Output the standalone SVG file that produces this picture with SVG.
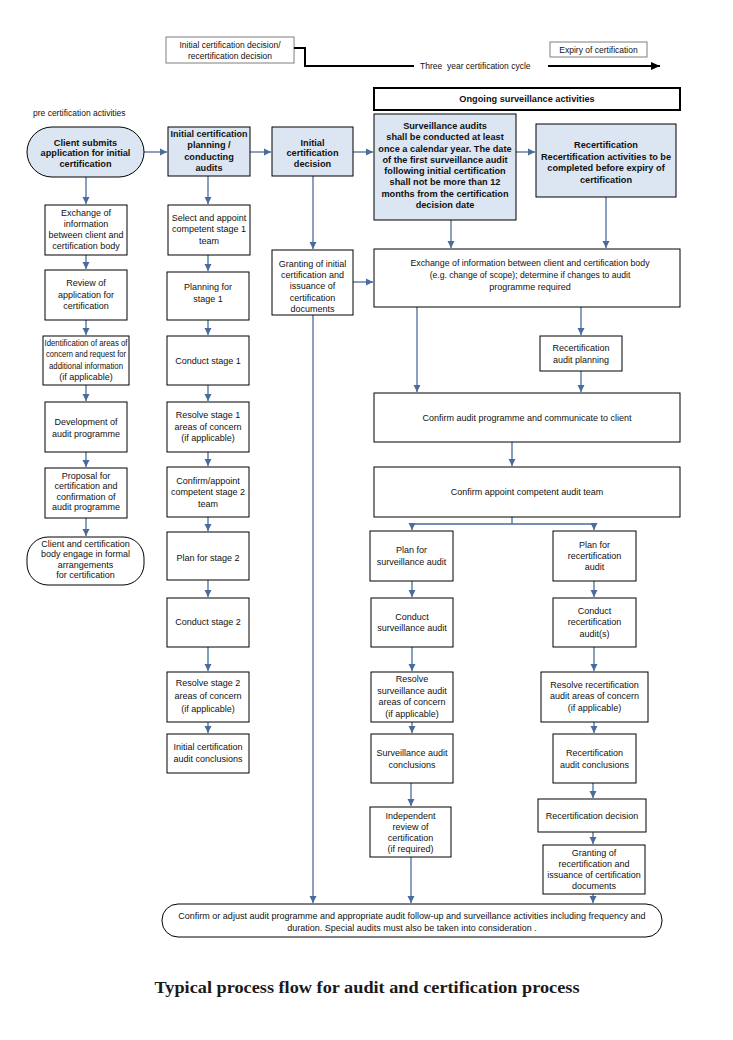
<svg xmlns="http://www.w3.org/2000/svg" width="733" height="1040" viewBox="0 0 733 1040">
<style>
  .bx { fill: #ffffff; stroke: #000000; stroke-width: 1; }
  .bl { fill: #DCE6F2; stroke: #000000; stroke-width: 1; }
  .gb { fill: #ffffff; stroke: #7f7f7f; stroke-width: 1; }
  text { font-family: "Liberation Sans", Arial, sans-serif; font-size: 9px; fill: #111111; }
  .c { text-anchor: middle; }
  .b { font-weight: bold; font-size: 9.2px; }
  .s { font-size: 8.5px; }
  .cn { fill: none; stroke: #4A6C9B; stroke-width: 1.3; marker-end: url(#ah); }
  .ln { fill: none; stroke: #4A6C9B; stroke-width: 1.3; }
  .title { font-family: "Liberation Serif", "Times New Roman", serif; font-weight: bold; font-size: 17px; fill: #1a1a1a; }
</style>
<defs>
  <marker id="ah" markerUnits="userSpaceOnUse" markerWidth="8" markerHeight="8" refX="7" refY="4" orient="auto">
    <path d="M0,0.5 L7,4 L0,7.5 z" fill="#4A6C9B"/>
  </marker>
  <marker id="ahk" markerUnits="userSpaceOnUse" markerWidth="10" markerHeight="10" refX="9" refY="5" orient="auto">
    <path d="M0,1 L9,5 L0,9 z" fill="#000000"/>
  </marker>
</defs>
<rect x="0" y="0" width="733" height="1040" fill="#ffffff"/>

<!-- top timeline -->
<g id="cycle">
  <rect class="gb" x="166" y="37" width="128" height="26"/>
  <text class="c s" x="230" y="47.5">Initial certification decision/</text>
  <text class="c s" x="230" y="58.5">recertification decision</text>
  <path d="M294,48 H305 V66 H414" fill="none" stroke="#000" stroke-width="2"/>
  <text class="s" x="420" y="69">Three&#160; year certification cycle</text>
  <path d="M548,66 H660" fill="none" stroke="#000" stroke-width="2" marker-end="url(#ahk)"/>
</g>
<g id="expiry">
  <rect class="gb" x="550" y="42" width="97" height="15"/>
  <text class="c s" x="598.5" y="53">Expiry of certification</text>
</g>
<g id="ongoing">
  <rect x="374" y="88" width="306" height="22" fill="#fff" stroke="#000" stroke-width="2"/>
  <text class="c b" x="527" y="102">Ongoing surveillance activities</text>
</g>
<text class="s" x="33" y="116">pre certification activities</text>

<!-- connectors -->
<g id="connectors">
  <path class="cn" d="M144,152 H167"/>
  <path class="cn" d="M250,152 H271"/>
  <path class="cn" d="M353,152 H373"/>
  <path class="cn" d="M516,152 H535"/>
  <!-- left column -->
  <path class="cn" d="M86,177 V204"/>
  <path class="cn" d="M86,255 V269"/>
  <path class="cn" d="M86,320 V335"/>
  <path class="cn" d="M86,385 V401"/>
  <path class="cn" d="M86,452 V467"/>
  <path class="cn" d="M86,518 V536"/>
  <!-- middle column -->
  <path class="cn" d="M208,176 V204"/>
  <path class="cn" d="M208,255 V271"/>
  <path class="cn" d="M208,320 V335"/>
  <path class="cn" d="M208,385 V401"/>
  <path class="cn" d="M208,452 V466"/>
  <path class="cn" d="M208,517 V531"/>
  <path class="cn" d="M208,580 V597"/>
  <path class="cn" d="M208,647 V671"/>
  <path class="cn" d="M208,722 V733"/>
  <!-- decision column -->
  <path class="cn" d="M313,176 V249"/>
  <path class="cn" d="M353,282 H373"/>
  <path class="cn" d="M313,315 V903"/>
  <!-- right area -->
  <path class="cn" d="M451,220 V248"/>
  <path class="cn" d="M606,197 V248"/>
  <path class="cn" d="M417,307 V392"/>
  <path class="cn" d="M581,307 V335"/>
  <path class="cn" d="M581,371 V392"/>
  <path class="cn" d="M512,442 V466"/>
  <path class="ln" d="M512,517 V524 H412 M512,524 H594"/>
  <path class="cn" d="M412,524 V530"/>
  <path class="cn" d="M594,524 V530"/>
  <path class="cn" d="M412,581 V597"/>
  <path class="cn" d="M412,647 V671"/>
  <path class="cn" d="M412,722 V733"/>
  <path class="cn" d="M411,783 V806"/>
  <path class="cn" d="M411,857 V903"/>
  <path class="cn" d="M594,581 V597"/>
  <path class="cn" d="M594,647 V671"/>
  <path class="cn" d="M594,722 V733"/>
  <path class="cn" d="M593,783 V798"/>
  <path class="cn" d="M593,832 V844"/>
  <path class="cn" d="M593,894 V903"/>
</g>

<!-- top row -->
<g id="client-submits">
  <rect class="bl" x="27" y="127" width="117" height="50" rx="25"/>
  <text class="c b" x="85.5" y="145.5">Client submits</text>
  <text class="c b" x="85.5" y="156">application for initial</text>
  <text class="c b" x="85.5" y="166.5">certification</text>
</g>
<g id="initial-planning">
  <rect class="bl" x="168" y="127" width="82" height="49"/>
  <text class="c b" x="209" y="136.5" style="font-size:9px">Initial certification</text>
  <text class="c b" x="209" y="148">planning /</text>
  <text class="c b" x="209" y="159.5">conducting</text>
  <text class="c b" x="209" y="171">audits</text>
</g>
<g id="initial-decision">
  <rect class="bl" x="272" y="127" width="81" height="49"/>
  <text class="c b" x="312.5" y="145.5">Initial</text>
  <text class="c b" x="312.5" y="156">certification</text>
  <text class="c b" x="312.5" y="166.5">decision</text>
</g>
<g id="surveillance-audits">
  <rect class="bl" x="374" y="114" width="142" height="106"/>
  <text class="c b" x="445" y="129">Surveillance audits</text>
  <text class="c b" x="445" y="140">shall be conducted at least</text>
  <text class="c b" x="445" y="151.5">once a calendar year. The date</text>
  <text class="c b" x="445" y="162.5">of the first surveillance audit</text>
  <text class="c b" x="445" y="174">following initial certification</text>
  <text class="c b" x="445" y="185">shall not be more than 12</text>
  <text class="c b" x="445" y="196.5">months from the certification</text>
  <text class="c b" x="445" y="207.5">decision date</text>
</g>
<g id="recertification">
  <rect class="bl" x="536" y="124" width="140" height="73"/>
  <text class="c b" x="606" y="148">Recertification</text>
  <text class="c b" x="606" y="160">Recertification activities to be</text>
  <text class="c b" x="606" y="171">completed before expiry of</text>
  <text class="c b" x="606" y="183">certification</text>
</g>

<!-- left column -->
<g id="exchange-info">
  <rect class="bx" x="45" y="205" width="82" height="50"/>
  <text class="c" x="86" y="216">Exchange of</text>
  <text class="c" x="86" y="227">information</text>
  <text class="c" x="86" y="238">between client and</text>
  <text class="c" x="86" y="249">certification body</text>
</g>
<g id="review">
  <rect class="bx" x="45" y="270" width="82" height="50"/>
  <text class="c" x="86" y="286">Review of</text>
  <text class="c" x="86" y="298">application for</text>
  <text class="c" x="86" y="309">certification</text>
</g>
<g id="identification">
  <rect class="bx" x="43" y="336" width="86" height="49"/>
  <text class="c" x="86" y="345.5" textLength="83" lengthAdjust="spacingAndGlyphs">Identification of areas of</text>
  <text class="c" x="86" y="357" textLength="80" lengthAdjust="spacingAndGlyphs">concern and request for</text>
  <text class="c" x="86" y="368.5" textLength="74" lengthAdjust="spacingAndGlyphs">additional information</text>
  <text class="c" x="86" y="380">(if applicable)</text>
</g>
<g id="development">
  <rect class="bx" x="45" y="402" width="82" height="50"/>
  <text class="c" x="86" y="425">Development of</text>
  <text class="c" x="86" y="436.5">audit programme</text>
</g>
<g id="proposal">
  <rect class="bx" x="45" y="468" width="82" height="50"/>
  <text class="c" x="86" y="478.5">Proposal for</text>
  <text class="c" x="86" y="489">certification and</text>
  <text class="c" x="86" y="499.5">confirmation of</text>
  <text class="c" x="86" y="510">audit programme</text>
</g>
<g id="formal-arrangements">
  <rect class="bx" x="27" y="537" width="117" height="48" rx="21"/>
  <text class="c" x="85.5" y="546.5">Client and certification</text>
  <text class="c" x="85.5" y="557">body engage in formal</text>
  <text class="c" x="85.5" y="567.5">arrangements</text>
  <text class="c" x="85.5" y="578">for certification</text>
</g>

<!-- middle column -->
<g id="select-stage1">
  <rect class="bx" x="168" y="205" width="82" height="50"/>
  <text class="c" x="209" y="221">Select and appoint</text>
  <text class="c" x="209" y="232">competent stage 1</text>
  <text class="c" x="209" y="244">team</text>
</g>
<g id="planning-stage1">
  <rect class="bx" x="167" y="272" width="82" height="48"/>
  <text class="c" x="208" y="290">Planning for</text>
  <text class="c" x="208" y="301.5">stage 1</text>
</g>
<g id="conduct-stage1">
  <rect class="bx" x="167" y="336" width="82" height="49"/>
  <text class="c" x="208" y="364">Conduct stage 1</text>
</g>
<g id="resolve-stage1">
  <rect class="bx" x="167" y="402" width="82" height="50"/>
  <text class="c" x="208" y="418">Resolve stage 1</text>
  <text class="c" x="208" y="429.5">areas of concern</text>
  <text class="c" x="208" y="440.5">(if applicable)</text>
</g>
<g id="confirm-stage2">
  <rect class="bx" x="167" y="467" width="82" height="50"/>
  <text class="c" x="208" y="484">Confirm/appoint</text>
  <text class="c" x="208" y="495">competent stage 2</text>
  <text class="c" x="208" y="506.5">team</text>
</g>
<g id="plan-stage2">
  <rect class="bx" x="167" y="532" width="82" height="48"/>
  <text class="c" x="208" y="561">Plan for stage 2</text>
</g>
<g id="conduct-stage2">
  <rect class="bx" x="167" y="598" width="82" height="49"/>
  <text class="c" x="208" y="625">Conduct stage 2</text>
</g>
<g id="resolve-stage2">
  <rect class="bx" x="167" y="672" width="82" height="50"/>
  <text class="c" x="208" y="686">Resolve stage 2</text>
  <text class="c" x="208" y="699">areas of concern</text>
  <text class="c" x="208" y="712">(if applicable)</text>
</g>
<g id="initial-conclusions">
  <rect class="bx" x="167" y="734" width="82" height="39"/>
  <text class="c" x="208" y="750">Initial certification</text>
  <text class="c" x="208" y="762">audit conclusions</text>
</g>

<!-- decision column -->
<g id="granting-initial">
  <rect class="bx" x="272" y="250" width="81" height="65"/>
  <text class="c" x="312.5" y="267">Granting of initial</text>
  <text class="c" x="312.5" y="278">certification and</text>
  <text class="c" x="312.5" y="289">issuance of</text>
  <text class="c" x="312.5" y="300.5">certification</text>
  <text class="c" x="312.5" y="311.5">documents</text>
</g>

<!-- right area -->
<g id="exchange-change">
  <rect class="bx" x="374" y="249" width="306" height="58"/>
  <text class="c" x="530" y="266" style="font-size:8.8px">Exchange of information between client and certification body</text>
  <text class="c" x="530" y="278" style="font-size:8.6px">(e.g. change of scope); determine if changes to audit</text>
  <text class="c" x="530" y="290">programme required</text>
</g>
<g id="recert-planning">
  <rect class="bx" x="540" y="336" width="82" height="35"/>
  <text class="c" x="581" y="351">Recertification</text>
  <text class="c" x="581" y="362.5">audit planning</text>
</g>
<g id="confirm-programme">
  <rect class="bx" x="374" y="393" width="306" height="49"/>
  <text class="c" x="527" y="420.5">Confirm audit programme and communicate to client</text>
</g>
<g id="confirm-team">
  <rect class="bx" x="374" y="467" width="306" height="50"/>
  <text class="c" x="527" y="495">Confirm appoint competent audit team</text>
</g>
<g id="plan-surveillance">
  <rect class="bx" x="370" y="531" width="83" height="50"/>
  <text class="c" x="411.5" y="553">Plan for</text>
  <text class="c" x="411.5" y="565">surveillance audit</text>
</g>
<g id="plan-recert">
  <rect class="bx" x="553" y="531" width="83" height="50"/>
  <text class="c" x="594.5" y="548">Plan for</text>
  <text class="c" x="594.5" y="558.5">recertification</text>
  <text class="c" x="594.5" y="570">audit</text>
</g>
<g id="conduct-surveillance">
  <rect class="bx" x="371" y="598" width="82" height="49"/>
  <text class="c" x="412" y="620">Conduct</text>
  <text class="c" x="412" y="631">surveillance audit</text>
</g>
<g id="conduct-recert">
  <rect class="bx" x="553" y="598" width="83" height="49"/>
  <text class="c" x="594.5" y="614">Conduct</text>
  <text class="c" x="594.5" y="625">recertification</text>
  <text class="c" x="594.5" y="636.5">audit(s)</text>
</g>
<g id="resolve-surveillance">
  <rect class="bx" x="371" y="672" width="82" height="50"/>
  <text class="c" x="412" y="682">Resolve</text>
  <text class="c" x="412" y="694">surveillance audit</text>
  <text class="c" x="412" y="705">areas of concern</text>
  <text class="c" x="412" y="716.5">(if applicable)</text>
</g>
<g id="resolve-recert">
  <rect class="bx" x="541" y="672" width="107" height="50"/>
  <text class="c" x="594.5" y="687.5">Resolve recertification</text>
  <text class="c" x="594.5" y="699">audit areas of concern</text>
  <text class="c" x="594.5" y="710.5">(if applicable)</text>
</g>
<g id="surveillance-conclusions">
  <rect class="bx" x="371" y="734" width="82" height="49"/>
  <text class="c" x="412" y="756">Surveillance audit</text>
  <text class="c" x="412" y="767.5">conclusions</text>
</g>
<g id="recert-conclusions">
  <rect class="bx" x="553" y="734" width="83" height="49"/>
  <text class="c" x="594.5" y="756">Recertification</text>
  <text class="c" x="594.5" y="767.5">audit conclusions</text>
</g>
<g id="independent-review">
  <rect class="bx" x="370" y="807" width="81" height="50"/>
  <text class="c" x="410.5" y="819">Independent</text>
  <text class="c" x="410.5" y="829.5">review of</text>
  <text class="c" x="410.5" y="840.5">certification</text>
  <text class="c" x="410.5" y="852">(if required)</text>
</g>
<g id="recert-decision">
  <rect class="bx" x="538" y="799" width="108" height="33"/>
  <text class="c" x="592" y="819">Recertification decision</text>
</g>
<g id="granting-recert">
  <rect class="bx" x="543" y="845" width="102" height="49"/>
  <text class="c" x="594" y="856">Granting of</text>
  <text class="c" x="594" y="866.5">recertification and</text>
  <text class="c" x="594" y="877.5">issuance of certification</text>
  <text class="c" x="594" y="889">documents</text>
</g>
<g id="confirm-adjust">
  <rect class="bx" x="162" y="904" width="500" height="33" rx="16"/>
  <text class="c" x="412" y="919">Confirm or adjust audit programme and appropriate audit follow-up and surveillance activities including frequency and</text>
  <text class="c" x="412" y="930.5">duration. Special audits must also be taken into consideration .</text>
</g>

<text class="title" x="367" y="993" text-anchor="middle" textLength="425" lengthAdjust="spacingAndGlyphs">Typical process flow for audit and certification process</text>
</svg>
